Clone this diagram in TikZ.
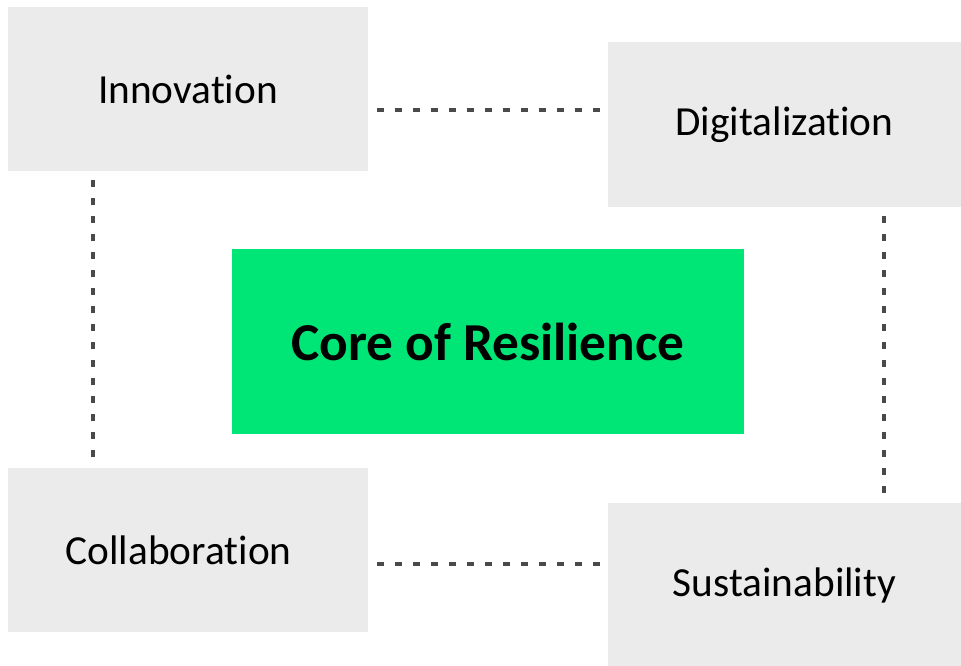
\documentclass[tikz,border=0pt]{standalone}
\usepackage{fontspec}
\setmainfont{Carlito}[Ligatures=NoCommon]
\usetikzlibrary{positioning, calc}

\definecolor{boxgray}{HTML}{EBEBEC}
\definecolor{coregreen}{HTML}{00E676}
\definecolor{linegray}{HTML}{4A4A4A}

\begin{document}
\begin{tikzpicture}[x=0.75pt, y=-0.75pt]
    \tikzstyle{pillar} = [rectangle, fill=boxgray, inner sep=0pt, font=\fontsize{31}{36}\selectfont]
    \tikzstyle{core} = [rectangle, fill=coregreen, inner sep=0pt, minimum width=384pt, minimum height=138.75pt, font=\fontsize{40}{46}\selectfont\bfseries]
    \tikzstyle{link} = [draw=linegray, line width=2.4pt, dash pattern=on 5.25pt off 8.25pt, shorten <=6.5pt, shorten >=6pt]

    \useasboundingbox (0,0) rectangle (961,666);

    % Define nodes
    \node[pillar, minimum width=270pt, minimum height=123pt] (innov) at (188,89) {Innovation};
    \node[pillar, minimum width=265pt, minimum height=124pt] (dig) at (784.5,124.5) {Digitalization};
    \node[core] (core) at (488,341.5) {Core of Resilience};
    \node[pillar, minimum width=270pt, minimum height=123pt, text depth=0pt] (collab) at (188,550) {\hspace*{-14pt}Collaboration};
    \node[pillar, minimum width=265pt, minimum height=123pt] (sust) at (784.5,585) {Sustainability};

    % Lanes for the dashed edges
    \coordinate (top) at (0,110);
    \coordinate (bot) at (0,564);
    \coordinate (left) at (93,0);
    \coordinate (right) at (884,0);

    % Draw dashed edges
    \draw[link] (innov.east |- top) -- (dig.west |- top);
    \draw[link] (collab.east |- bot) -- (sust.west |- bot);
    \draw[link] (left |- innov.south) -- (left |- collab.north);
    \draw[link] (right |- dig.south) -- (right |- sust.north);
\end{tikzpicture}
\end{document}
